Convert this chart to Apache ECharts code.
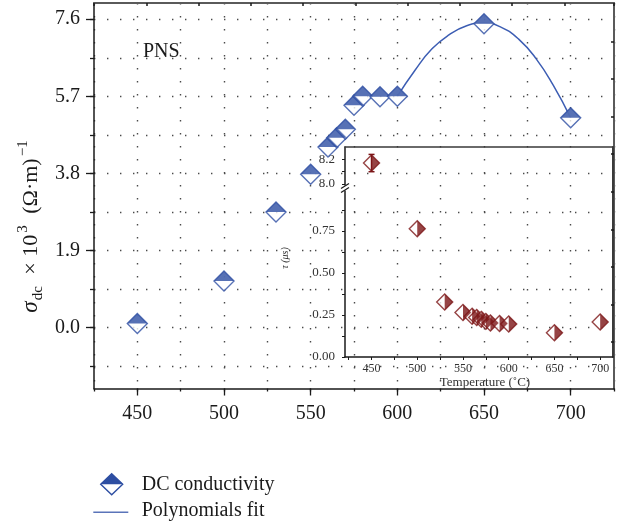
<!DOCTYPE html>
<html>
<head>
<meta charset="utf-8">
<script src="https://cdn.jsdelivr.net/npm/echarts@6/dist/echarts.min.js"></script>
<style>
  html, body { margin: 0; padding: 0; background: #ffffff; }
  #chart { width: 631px; height: 527px; }
</style>
</head>
<body>
<div id="chart"></div>
<script>
// DC conductivity of PNS versus temperature
const temperatures = [450, 500, 530, 550, 560, 565, 570, 575, 580, 590, 600, 650, 700];
const sigmaDC = [0.10, 1.15, 2.85, 3.78, 4.45, 4.68, 4.89, 5.48, 5.70, 5.69, 5.70, 7.49, 5.17];

// polynomial fit curve (600–700 °C)
const fitTemperatures = [600, 610, 620, 630, 640, 650, 660, 670, 680, 690, 700];
const fitSigma = [5.70, 6.33, 6.87, 7.22, 7.44, 7.51, 7.40, 7.11, 6.63, 5.97, 5.17];

// relaxation time τ (inset)
const tau = [8.17, 0.764, 0.327, 0.265, 0.242, 0.235, 0.224, 0.212, 0.202, 0.199, 0.196, 0.145, 0.208];
const tauErr = [0.07, 0, 0, 0, 0, 0, 0, 0, 0, 0, 0, 0, 0];

// tick values
const mainXLabels = [450, 500, 550, 600, 650, 700];
const mainYLabels = [0, 1.9, 3.8, 5.7, 7.6];
const mainYGrid = [-0.95, 0, 0.95, 1.9, 2.85, 3.8, 4.75, 5.7, 6.65, 7.6];
const frameRightTicks = [0, 1, 2, 3, 4, 5, 6, 7, 8];
const insetXLabels = [450, 500, 550, 600, 650, 700];
const insetXTicks = [425, 450, 475, 500, 525, 550, 575, 600, 625, 650, 675, 700];
const insetLowLabels = [0, 0.25, 0.5, 0.75];
const insetLowTicks = [0, 0.125, 0.25, 0.375, 0.5, 0.625, 0.75, 0.875];
const insetHighLabels = [8.0, 8.2];
const insetHighTicks = [8.0, 8.1, 8.2];

const FONT = '"Liberation Serif", "DejaVu Serif", serif';
const BLUE = '#2d4ea2';
const FIT = '#3c5db3';
const RED = '#7c1517';
const INK = '#1a1a1a';

const pairs = (xs, ys) => xs.map((x, i) => [x, ys[i]]);
const conductivity = pairs(temperatures, sigmaDC);
const fitCurve = pairs(fitTemperatures, fitSigma);
const tauHigh = temperatures.map((t, i) => [t, tau[i], tauErr[i]]).filter(d => d[1] > 1);
const tauLow = temperatures.map((t, i) => [t, tau[i], tauErr[i]]).filter(d => d[1] <= 1);

const dotted = { show: true, lineStyle: { color: '#4a4a4a', width: 1.4, type: [1.4, 11.6] } };
const none = { show: false };
const line = (color, width) => ({ show: true, onZero: false, lineStyle: { color: color, width: width } });
const noLine = { show: false, onZero: false };

const chart = echarts.init(document.getElementById('chart'), null, { renderer: 'canvas' });

const halfTop = 'path://M0 0L1 1L-1 1Z';
const halfRight = 'path://M0 0L1 1L0 2Z';

function diamondPair(name, data, xi, yi, size, color, fillSymbol, fillSize, fillOffset) {
  return [
    {
      name: name, type: 'scatter', xAxisIndex: xi, yAxisIndex: yi, data: data,
      symbol: 'diamond', symbolSize: size, z: 3, silent: true,
      itemStyle: { color: '#ffffff', borderColor: color, borderWidth: 1.4 }
    },
    {
      name: name, type: 'scatter', xAxisIndex: xi, yAxisIndex: yi, data: data,
      symbol: fillSymbol, symbolSize: fillSize, symbolOffset: fillOffset, z: 4, silent: true,
      itemStyle: { color: color }
    }
  ];
}

const txt = (size, extra) => Object.assign({ fontFamily: FONT, fontSize: size, fontWeight: 'normal' }, extra || {});

const option = {
  animation: false,
  backgroundColor: '#ffffff',
  textStyle: { fontFamily: FONT, color: INK, fontWeight: 'normal' },
  grid: [
    { left: 94, top: 3, width: 520, height: 385.5 },
    { left: 345, top: 147, width: 268, height: 42 },
    { left: 345, top: 189, width: 268, height: 168 }
  ],
  xAxis: [
    { // main temperature axis with 25 °C grid
      gridIndex: 0, type: 'value', position: 'bottom', min: 425, max: 725, interval: 25,
      axisLine: line(INK, 1.5),
      axisTick: { length: 3, lineStyle: { color: INK, width: 1.3 } },
      axisLabel: Object.assign(txt(20), { customValues: mainXLabels, margin: 15, color: INK }),
      splitLine: dotted
    },
    { // long ticks at labelled values
      gridIndex: 0, type: 'value', position: 'bottom', min: 425, max: 725,
      axisLine: noLine, axisLabel: none, splitLine: none,
      axisTick: { customValues: mainXLabels, length: 7, lineStyle: { color: INK, width: 1.3 } }
    },
    { // top frame
      gridIndex: 0, type: 'value', position: 'top', min: 0, max: 9.95, interval: 1,
      axisLine: line('#5a5a5a', 2),
      axisTick: { inside: true, length: 3, lineStyle: { color: INK, width: 1.5 } },
      axisLabel: none, splitLine: none
    },
    { // inset top frame
      gridIndex: 1, type: 'value', position: 'top', min: 421, max: 714,
      axisLine: line('#3a3a3a', 1.6),
      axisTick: none, axisLabel: none, splitLine: none
    },
    { // inset temperature axis
      gridIndex: 2, type: 'value', position: 'bottom', min: 421, max: 714,
      axisLine: line(INK, 1.5),
      axisTick: { customValues: insetXTicks, length: 3, lineStyle: { color: INK, width: 1 } },
      axisLabel: Object.assign(txt(12), { customValues: insetXLabels, margin: 6, color: '#333' }),
      splitLine: none,
      name: 'Temperature (˚C)', nameLocation: 'middle', nameGap: 19,
      nameTextStyle: txt(13, { color: '#333', padding: [0, 0, 0, 12] })
    }
  ],
  yAxis: [
    { // main conductivity axis with 0.95 grid
      gridIndex: 0, type: 'value', position: 'left', min: -1.5, max: 8,
      axisLine: line(INK, 1.5),
      axisTick: { show: true, customValues: mainYGrid, length: 4, lineStyle: { color: INK, width: 1.3 } },
      axisLabel: Object.assign(txt(20), { customValues: mainYLabels, margin: 14, color: INK,
                   formatter: v => v.toFixed(1) }),
      splitLine: dotted
    },
    { // long ticks at labelled values
      gridIndex: 0, type: 'value', position: 'left', min: -1.5, max: 8,
      axisLine: noLine, axisLabel: none, splitLine: none,
      axisTick: { show: true, customValues: mainYLabels, length: 8, lineStyle: { color: INK, width: 1.3 } }
    },
    { // right frame
      gridIndex: 0, type: 'value', position: 'right', min: -1.245, max: 9.032,
      axisLine: line('#5a5a5a', 2),
      axisTick: { show: true, inside: true, customValues: frameRightTicks, length: 3, lineStyle: { color: INK, width: 1.5 } },
      axisLabel: none, splitLine: none
    },
    { // inset upper segment
      gridIndex: 1, type: 'value', position: 'left', min: 7.96, max: 8.3,
      axisLine: line(INK, 1.5),
      axisTick: { show: true, customValues: insetHighTicks, length: 3, lineStyle: { color: INK, width: 1 } },
      axisLabel: Object.assign(txt(13), { customValues: insetHighLabels, margin: 10, color: '#333',
                   formatter: v => v.toFixed(1) }),
      splitLine: none
    },
    {
      gridIndex: 1, type: 'value', position: 'right', min: 7.96, max: 8.3,
      axisLine: line('#3a3a3a', 2),
      axisTick: none, axisLabel: none, splitLine: none
    },
    { // inset lower segment
      gridIndex: 2, type: 'value', position: 'left', min: 0, max: 1,
      axisLine: line(INK, 1.5),
      axisTick: { show: true, customValues: insetLowTicks, length: 3, lineStyle: { color: INK, width: 1 } },
      axisLabel: Object.assign(txt(13), { customValues: insetLowLabels, margin: 10, color: '#333',
                   formatter: v => v.toFixed(2) }),
      splitLine: none
    },
    {
      gridIndex: 2, type: 'value', position: 'right', min: 0, max: 1,
      axisLine: line('#3a3a3a', 2),
      axisTick: none, axisLabel: none, splitLine: none
    }
  ],
  series: [
    {
      name: 'Polynomials fit', type: 'line', xAxisIndex: 0, yAxisIndex: 0, data: fitCurve,
      smooth: 0.5, showSymbol: false, z: 2, silent: true,
      lineStyle: { color: FIT, width: 1.5 }
    },
    ...diamondPair('DC conductivity', conductivity, 0, 0, 20, BLUE, halfTop, [20, 10], [0, -5]),
    ...diamondPair('τ', tauLow, 4, 5, 16, RED, halfRight, [8, 16], [4, 0]),
    ...diamondPair('τ', tauHigh, 3, 3, 16, RED, halfRight, [8, 16], [4, 0]),
    {
      name: 'τ error', type: 'custom', xAxisIndex: 3, yAxisIndex: 3, data: tauHigh, z: 5, silent: true,
      renderItem: function (params, api) {
        const x = api.value(0), y = api.value(1), e = api.value(2);
        const hi = api.coord([x, y + e]);
        const lo = api.coord([x, y - e]);
        const w = 3;
        const style = { stroke: RED, lineWidth: 1.5 };
        return {
          type: 'group',
          children: [
            { type: 'line', shape: { x1: hi[0], y1: hi[1], x2: lo[0], y2: lo[1] }, style: style },
            { type: 'line', shape: { x1: hi[0] - w, y1: hi[1], x2: hi[0] + w, y2: hi[1] }, style: style },
            { type: 'line', shape: { x1: lo[0] - w, y1: lo[1], x2: lo[0] + w, y2: lo[1] }, style: style }
          ]
        };
      }
    }
  ],
  graphic: [
    {
      id: 'sample', type: 'text', left: 143, top: 42, silent: true,
      style: txt(20, { text: 'PNS', fill: INK })
    },
    {
      id: 'sigmaTitle', type: 'text', x: 31, y: 225, rotation: Math.PI / 2, silent: true,
      style: {
        text: '{s|σ}{sub|dc}{n| × 10}{sup|3}{n| (Ω·m)}{sup|−1}',
        align: 'center', verticalAlign: 'middle', fill: INK, fontWeight: 'normal',
        rich: {
          s: txt(23, { fontStyle: 'italic', lineHeight: 30, verticalAlign: 'middle' }),
          n: txt(22, { lineHeight: 30, verticalAlign: 'middle', padding: [0, 0, 0, 3] }),
          sub: txt(15, { lineHeight: 15, verticalAlign: 'bottom', padding: [0, 3, 0, 1] }),
          sup: txt(15, { lineHeight: 15, verticalAlign: 'top', padding: [0, 3, 0, 2] })
        }
      }
    },
    {
      id: 'tauTitle', type: 'text', x: 285, y: 258, rotation: Math.PI / 2, silent: true,
      style: txt(10, { text: 'τ (μs)', fontStyle: 'italic', fill: '#333', align: 'center', verticalAlign: 'middle' })
    },
    // legend
    {
      id: 'legendDiamond', type: 'polygon', silent: true,
      shape: { points: [[111.7, 473.8], [122.7, 484.3], [111.7, 494.8], [100.7, 484.3]] },
      style: { fill: '#ffffff', stroke: BLUE, lineWidth: 1.4 }
    },
    {
      id: 'legendDiamondTop', type: 'polygon', silent: true,
      shape: { points: [[111.7, 473.8], [122.7, 484.3], [100.7, 484.3]] },
      style: { fill: BLUE }
    },
    {
      id: 'legendText1', type: 'text', x: 141.7, y: 485, silent: true,
      style: txt(20, { text: 'DC conductivity', fill: INK, verticalAlign: 'middle' })
    },
    {
      id: 'legendLine', type: 'line', silent: true,
      shape: { x1: 93.3, y1: 512.3, x2: 128.3, y2: 512.3 },
      style: { stroke: '#5a74b9', lineWidth: 1.6 }
    },
    {
      id: 'legendText2', type: 'text', x: 141.7, y: 511, silent: true,
      style: txt(20, { text: 'Polynomials fit', fill: INK, verticalAlign: 'middle' })
    }
  ]
};

chart.setOption(option);

// axis break mark on the inset's τ axis, placed where the two segments meet
const breakPt = chart.convertToPixel({ xAxisIndex: 4, yAxisIndex: 5 }, [421, 1]);
const bx = breakPt[0], by = breakPt[1] - 1;
chart.setOption({
  graphic: [
    {
      id: 'breakGap', type: 'rect', silent: true, z: 10,
      shape: { x: bx - 2, y: by - 2.5, width: 4, height: 5 },
      style: { fill: '#ffffff' }
    },
    {
      id: 'breakStroke1', type: 'line', silent: true, z: 11,
      shape: { x1: bx - 4, y1: by + 0.5, x2: bx + 4, y2: by - 4.5 },
      style: { stroke: INK, lineWidth: 1.2 }
    },
    {
      id: 'breakStroke2', type: 'line', silent: true, z: 11,
      shape: { x1: bx - 4, y1: by + 4.5, x2: bx + 4, y2: by - 0.5 },
      style: { stroke: INK, lineWidth: 1.2 }
    }
  ]
});
</script>
</body>
</html>
